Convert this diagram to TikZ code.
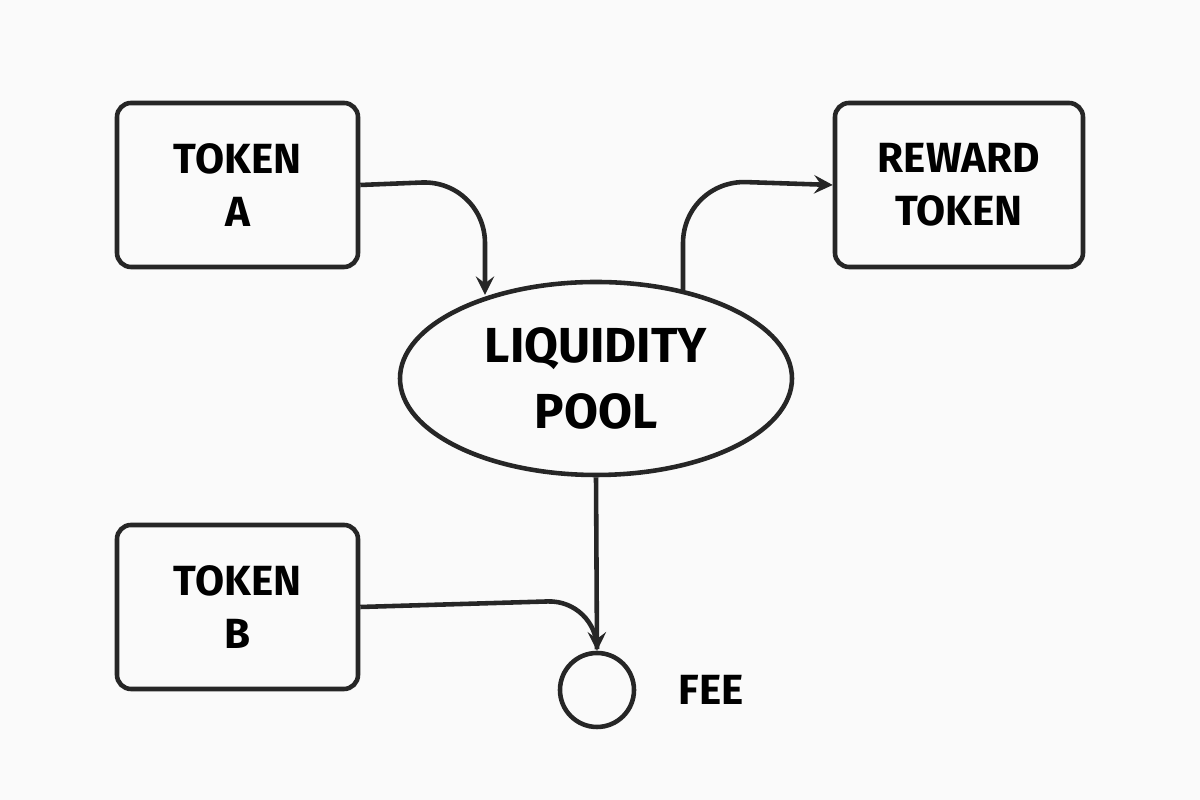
\documentclass[tikz,border=0pt]{standalone}
\usepackage{fontspec}
\setmainfont{Fira Sans}
\usetikzlibrary{shapes.geometric}
\usetikzlibrary{positioning}
\tikzstyle{token} = [rectangle, rounded corners=4pt, minimum width=2.41cm, minimum height=1.64cm, text centered, align=center, draw=black!85, line width=1.3pt, font=\fontsize{12}{15}\selectfont\bfseries]
\tikzstyle{pool} = [ellipse, minimum width=3.92cm, minimum height=1.93cm, align=center, draw=black!85, line width=1.3pt, font=\fontsize{14}{19}\selectfont\bfseries]
\tikzstyle{arrow} = [line width=1.3pt, draw=black!85, ->, >=stealth, rounded corners=18pt]

\begin{document}
\begin{tikzpicture}
        \fill[black!2!white] (0,0) rectangle (12,8);
        \node (tokenA) [token] at (2.375,6.15) {TOKEN\\A};
        \node (reward) [token, minimum width=2.48cm] at (9.59,6.15) {REWARD\\TOKEN};
        \node (tokenB) [token] at (2.375,1.93) {TOKEN\\B};
        \node (pool) [pool] at (5.96,4.215) {LIQUIDITY\\POOL};
        \node (fee) [circle, draw=black!85, line width=1.3pt, minimum size=0.74cm] at (5.97,1.10) {};
        \node (feeLabel) [right=0.3cm of fee, font=\fontsize{12}{15}\selectfont\bfseries] {FEE};

        \draw [arrow] (tokenA.east) -- (4.85,6.2) -- (4.85,5.05);
        \draw [arrow] (6.83,5.1) -- (6.83,6.2) -- (reward.west);
        \draw [arrow] (pool.south) -- (fee.north);
        \draw [line width=1.3pt, draw=black!85, rounded corners=14pt] (tokenB.east) -- (5.97,2.0) -- (5.97,1.6);
\end{tikzpicture}
\end{document}
